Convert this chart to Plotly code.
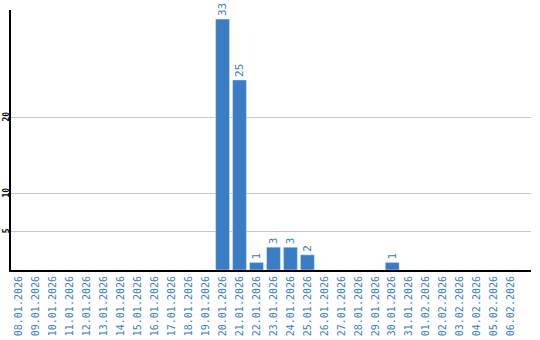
import plotly.graph_objects as go

dates = ["08.01.2026","09.01.2026","10.01.2026","11.01.2026","12.01.2026","13.01.2026",
         "14.01.2026","15.01.2026","16.01.2026","17.01.2026","18.01.2026","19.01.2026",
         "20.01.2026","21.01.2026","22.01.2026","23.01.2026","24.01.2026","25.01.2026",
         "26.01.2026","27.01.2026","28.01.2026","29.01.2026","30.01.2026","31.01.2026",
         "01.02.2026","02.02.2026","03.02.2026","04.02.2026","05.02.2026","06.02.2026"]
values = [0,0,0,0,0,0,0,0,0,0,0,0,33,25,1,3,3,2,0,0,0,0,1,0,0,0,0,0,0,0]
y_ticks = [5, 10, 20]

blue = "#3b7dc4"
labels = [str(v) if v > 0 else "" for v in values]

fig = go.Figure(go.Bar(
    x=list(range(len(dates))), y=values, marker_color=blue, width=0.82,
    text=labels, textposition="outside", textangle=-90,
    textfont=dict(family="DejaVu Sans Mono", size=11, color=blue),
    cliponaxis=False,
))
fig.update_layout(
    width=540, height=340, margin=dict(l=11, r=9, t=10, b=70),
    plot_bgcolor="white", paper_bgcolor="white", showlegend=False,
    xaxis=dict(range=[-0.47, 30.18], tickmode="array", tickvals=list(range(len(dates))),
               ticktext=dates, tickangle=-90, showgrid=False, showline=True,
               linecolor="black", linewidth=2, ticks="", automargin=False,
               tickfont=dict(family="DejaVu Sans Mono", size=10, color=blue)),
    yaxis=dict(range=[0, 34.2], tickmode="array", tickvals=y_ticks, tickangle=-90,
               showgrid=True, gridcolor="#c8c8c8", gridwidth=1, showline=True,
               linecolor="black", linewidth=2, ticks="", zeroline=False, automargin=False,
               ticklabelstandoff=-3,
               tickfont=dict(family="DejaVu Sans Mono", size=8, color="black", weight="bold")),
)
fig.write_html("out.html")
